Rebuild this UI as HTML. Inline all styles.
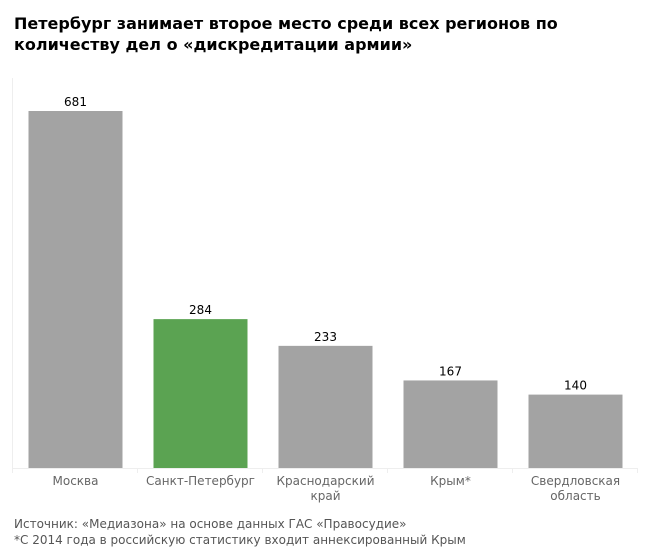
<!DOCTYPE html>
<html><head><meta charset="utf-8"><style>
body{margin:0;background:#fff;width:649px;height:559px;overflow:hidden;font-family:"DejaVu Sans","Liberation Sans",sans-serif}
#title{position:absolute;left:14px;top:13px;font-size:16px;font-weight:bold;line-height:21px;color:#000;margin:0}
.foot{position:absolute;left:14px;font-size:12px;color:#555}
</style></head><body>
<h1 id="title">Петербург занимает второе место среди всех регионов по количеству дел о «дискредитации армии»</h1>
<svg id="chart" width="649" height="559" style="position:absolute;left:0;top:0"></svg>
<div class="foot" style="top:517px">Источник: «Медиазона» на основе данных ГАС «Правосудие»</div>
<div class="foot" style="top:533px">*С 2014 года в российскую статистику входит аннексированный Крым</div>
<script>
const categories=[["Москва"],["Санкт-Петербург"],["Краснодарский","край"],["Крым*"],["Свердловская","область"]];
const values=[681,284,233,167,140];
const highlight=[false,true,false,false,false];
const NS="http://www.w3.org/2000/svg";
const svg=document.getElementById('chart');
const x0=12,x1=637,y0=468,band=(x1-x0)/categories.length,bw=94;
const yScale=v=>y0-v*(357/681);
const xScale=i=>x0+1+band*i+(band-bw)/2;
function mk(t,a){const e=document.createElementNS(NS,t);for(const k in a)e.setAttribute(k,a[k]);svg.appendChild(e);return e;}
let ax=mk('line',{x1:x0+0.5,y1:78,x2:x0+0.5,y2:y0,stroke:'#eee'});


let bx=mk('line',{x1:x0,y1:y0+0.5,x2:x1,y2:y0+0.5,stroke:'#eee'});


for(let i=0;i<=categories.length;i++){
 let t=mk('line',{x1:x0+band*i+0.5,y1:y0,x2:x0+band*i+0.5,y2:y0+5,stroke:'#eee'});
 
 
}
values.forEach((v,i)=>{
 const x=xScale(i),y=yScale(v);
 let r=mk('rect',{x:x,y:y,width:bw,height:y0-y,fill:highlight[i]?'#5ba352':'#a3a3a3'});
 
 
 let t=mk('text',{x:x+bw/2,y:y-5,'text-anchor':'middle','font-size':12,fill:'#000'});
 t.textContent=v;
 
 
 categories[i].forEach((s,j)=>{
  let l=mk('text',{x:x+bw/2,y:485+j*15,'text-anchor':'middle','font-size':12,fill:'#666'});
  l.textContent=s;
  
  
 });
});
</script>
</body></html>
